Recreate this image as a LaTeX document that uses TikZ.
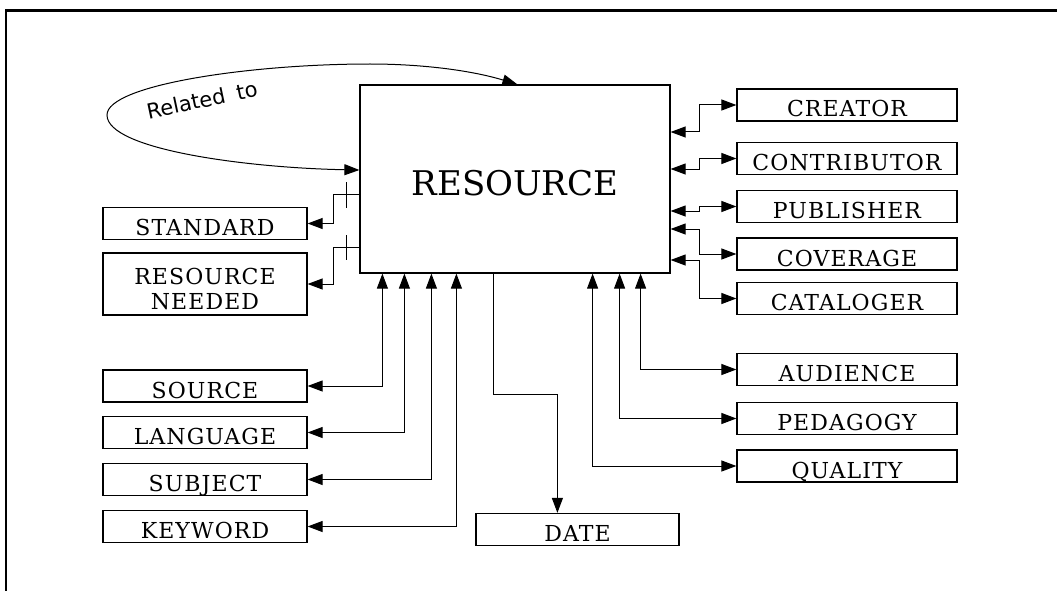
\documentclass[tikz,border=0pt]{standalone}
\usepackage{fontspec}
\newfontfamily\lblfont[LetterSpace=5]{DejaVu Serif}
\newfontfamily\bigfont{DejaVu Serif}
\newfontfamily\relfont{DejaVu Sans}
\usetikzlibrary{arrows.meta,calc}
\begin{document}
\begin{tikzpicture}[x=1pt,y=-1pt,
  >={Triangle[length=15pt,width=11pt]},
  box/.style={draw,line width=1.2pt,inner sep=0pt,minimum height=32pt,
    font=\lblfont\fontsize{22}{25}\selectfont,text height=24pt,text depth=0pt},
  lbox/.style={box,minimum width=204pt},
  rbox/.style={box,minimum width=220pt},
  conn/.style={line width=1pt},
  frame/.style={line width=2.5pt},
  rellbl/.style={font=\relfont\fontsize{21}{24}\selectfont,rotate=12},
]
\useasboundingbox (0,0) rectangle (1057,591);
\draw[frame] (6,591) -- (6,10.5) -- (1057,10.5);

% central box
\node[box,minimum width=310pt,minimum height=188pt,
  font=\bigfont\fontsize{34}{40}\selectfont,text height=32pt] (res) at (515,179) {RESOURCE};

% left boxes
\node[lbox] (std) at (205,223.5) {STANDARD};
\node[lbox,minimum height=62pt,
  label={[font=\lblfont\fontsize{22}{25}\selectfont,align=center,yshift=-4.5pt]center:RESOURCE\\NEEDED}] (rn) at (205,284) {};
\node[lbox] (src) at (205,386) {SOURCE};
\node[lbox] (lang) at (205,432.5) {LANGUAGE};
\node[lbox] (subj) at (205,479.5) {SUBJECT};
\node[lbox] (key) at (205,526.5) {KEYWORD};

% right boxes
\node[rbox] (cre) at (847,105) {CREATOR};
\node[rbox] (con) at (847,158.5) {CONTRIBUTOR};
\node[rbox] (pub) at (847,206.5) {PUBLISHER};
\node[rbox] (cov) at (847,254) {COVERAGE};
\node[rbox] (cat) at (847,298.5) {CATALOGER};
\node[rbox] (aud) at (847,369.5) {AUDIENCE};
\node[rbox] (ped) at (847,418.5) {PEDAGOGY};
\node[rbox] (qual) at (847,466) {QUALITY};

% bottom box
\node[box,minimum width=203pt] (date) at (577.5,529.5) {DATE};

% related to loop
\draw[conn,<->] ($(res.north west)+(158,0)$) .. controls (470,70) and (420,64) .. (370,64)
  .. controls (250,64) and (107,85) .. (107,115)
  .. controls (107,150) and (250,168) .. ($(res.west)+(0,-9)$);
\node[rellbl] (rel) at (202,100) {Related\hspace{5pt} to};

% left connectors with ticks
\draw[conn,->] ($(res.west)+(0,15)$) -| ($(std.east)+(26,0)$) -- (std.east);
\draw[conn] ($(res.west)+(-13,3)$) -- ++(0,26);
\draw[conn,->] ($(res.west)+(0,68)$) -| ($(rn.east)+(26,0)$) -- (rn.east);
\draw[conn] ($(res.west)+(-13,56)$) -- ++(0,25);

% right connectors
\draw[conn,<->] ($(res.east)+(0,-47)$) -| ($(cre.west)+(-37,0)$) -- (cre.west);
\draw[conn,<->] ($(res.east)+(0,-10)$) -| ($(con.west)+(-37,0)$) -- (con.west);
\draw[conn,<->] ($(res.east)+(0,32)$) -| ($(pub.west)+(-37,0)$) -- (pub.west);
\draw[conn,<->] ($(res.east)+(0,50)$) -| ($(cov.west)+(-37,0)$) -- (cov.west);
\draw[conn,<->] ($(res.east)+(0,81)$) -| ($(cat.west)+(-37,0)$) -- (cat.west);

% bottom-left connectors
\draw[conn,<->] (src.east) -| ($(res.south west)+(23,0)$);
\draw[conn,<->] (lang.east) -| ($(res.south west)+(45,0)$);
\draw[conn,<->] (subj.east) -| ($(res.south west)+(72,0)$);
\draw[conn,<->] (key.east) -| ($(res.south west)+(97,0)$);

% bottom-right connectors
\draw[conn,<->] (aud.west) -| ($(res.south east)+(-30,0)$);
\draw[conn,<->] (ped.west) -| ($(res.south east)+(-51,0)$);
\draw[conn,<->] (qual.west) -| ($(res.south east)+(-78,0)$);

% date
\draw[conn,->] ($(res.south west)+(134,0)$) -- ++(0,121) -| ($(date.north west)+(82,0)$);
\end{tikzpicture}
\end{document}
